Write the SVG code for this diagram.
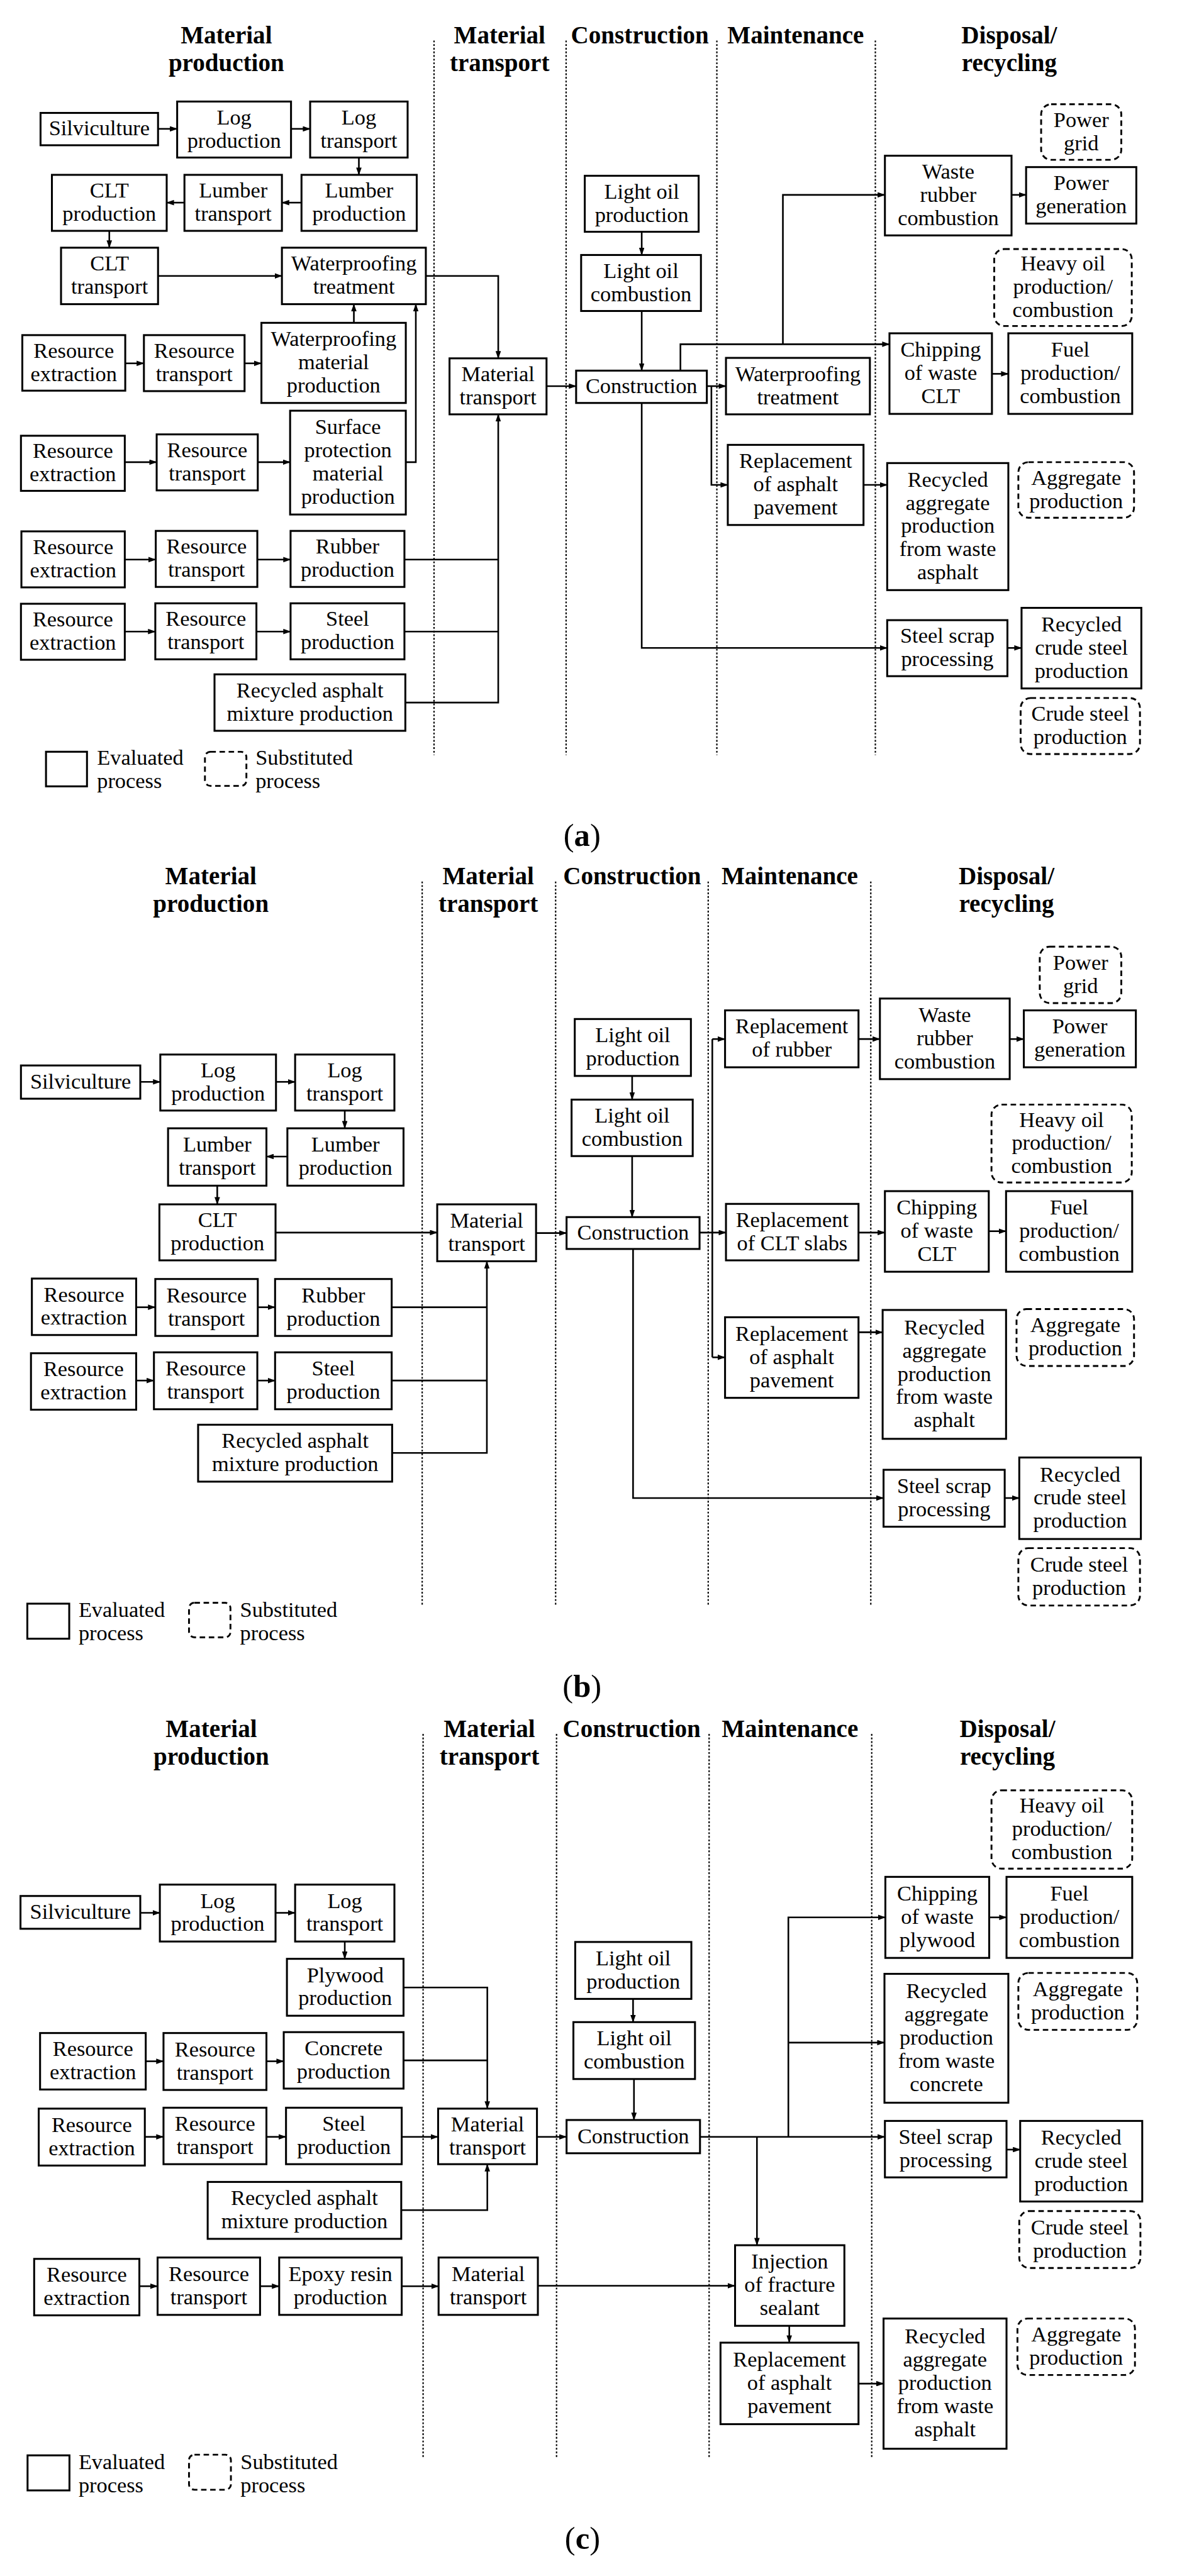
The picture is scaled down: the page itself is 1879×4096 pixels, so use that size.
<svg xmlns="http://www.w3.org/2000/svg" width="1879" height="4096" viewBox="0 0 1879 4096">
<defs>
<marker id="ar" markerUnits="userSpaceOnUse" markerWidth="17" markerHeight="12" viewBox="0 0 17 12" refX="16" refY="6" orient="auto"><path d="M0,0 L17,6 L0,12 z" fill="#000"/></marker>
<style>
.t{font-family:"Liberation Serif","Times New Roman",serif;font-size:47.5px;text-anchor:middle;fill:#000}
.lg{font-family:"Liberation Serif","Times New Roman",serif;font-size:47.5px;text-anchor:start;fill:#000}
.h{font-family:"Liberation Serif","Times New Roman",serif;font-size:54px;font-weight:bold;text-anchor:middle;fill:#000}
.cap{font-family:"Liberation Serif","Times New Roman",serif;font-size:70px;text-anchor:middle;fill:#000}
.b{fill:#fff;stroke:#000;stroke-width:4.2}
.d{fill:#fff;stroke:#000;stroke-width:4;stroke-dasharray:12 8}
.c line,.c path{fill:none;stroke:#000;stroke-width:3.6}
.a{marker-end:url(#ar)}
.v line{stroke:#000;stroke-width:3;stroke-dasharray:4 4}
</style>
</defs>
<rect width="1879" height="4096" fill="#fff"/>
<g transform="scale(0.724)">

<!-- ================= PANEL A ================= -->
<g id="a-headers">
<text class="h" y="95"><tspan x="497">Material</tspan><tspan x="497" dy="61">production</tspan></text>
<text class="h" y="95"><tspan x="1097">Material</tspan><tspan x="1097" dy="61">transport</tspan></text>
<text class="h" x="1405" y="95">Construction</text>
<text class="h" x="1747" y="95">Maintenance</text>
<text class="h" y="95"><tspan x="2216">Disposal/</tspan><tspan x="2216" dy="61">recycling</tspan></text>
</g>
<g id="a-separators" class="v">
<line x1="953" y1="89" x2="953" y2="1658"/>
<line x1="1243" y1="89" x2="1243" y2="1658"/>
<line x1="1574" y1="89" x2="1574" y2="1658"/>
<line x1="1922" y1="89" x2="1922" y2="1658"/>
</g>
<g id="a-connectors" class="c">
<line class="a" x1="347" y1="283" x2="389" y2="283"/>
<line class="a" x1="639" y1="283" x2="681" y2="283"/>
<line class="a" x1="788" y1="346" x2="788" y2="384"/>
<line class="a" x1="662" y1="445" x2="619" y2="445"/>
<line class="a" x1="405" y1="445" x2="366" y2="445"/>
<line class="a" x1="240" y1="507" x2="240" y2="544"/>
<line class="a" x1="347" y1="606" x2="619" y2="606"/>
<path class="a" d="M935,606 H1094 V787"/>
<line class="a" x1="777" y1="709" x2="777" y2="668"/>
<path class="a" d="M891,1015 H913 V668"/>
<line class="a" x1="275" y1="798" x2="316" y2="798"/>
<line class="a" x1="537" y1="798" x2="574" y2="798"/>
<line class="a" x1="274" y1="1015" x2="344" y2="1015"/>
<line class="a" x1="566" y1="1015" x2="637" y2="1015"/>
<line class="a" x1="274" y1="1229" x2="342" y2="1229"/>
<line class="a" x1="565" y1="1229" x2="638" y2="1229"/>
<line class="a" x1="274" y1="1387" x2="341" y2="1387"/>
<line class="a" x1="563" y1="1387" x2="638" y2="1387"/>
<line x1="888" y1="1229" x2="1094" y2="1229"/>
<line x1="888" y1="1387" x2="1094" y2="1387"/>
<path class="a" d="M890,1543 H1094 V910"/>
<line class="a" x1="1200" y1="848" x2="1265" y2="848"/>
<line class="a" x1="1409" y1="509" x2="1409" y2="560"/>
<line class="a" x1="1409" y1="683" x2="1409" y2="814"/>
<line class="a" x1="1552" y1="848" x2="1594" y2="848"/>
<path class="a" d="M1562,848 V1065 H1598"/>
<path class="a" d="M1494,814 V756 H1953"/>
<path class="a" d="M1719,756 V428 H1943"/>
<line class="a" x1="2221" y1="428" x2="2253" y2="428"/>
<line class="a" x1="2178" y1="821" x2="2214" y2="821"/>
<line class="a" x1="1896" y1="1065" x2="1948" y2="1065"/>
<path class="a" d="M1409,885 V1423 H1948"/>
<line class="a" x1="2212" y1="1423" x2="2243" y2="1423"/>
</g>
<g id="a-silviculture"><rect class="b" x="89" y="248" width="258" height="71"/><text class="t" x="218" y="297.5">Silviculture</text></g>
<g id="a-log-production"><rect class="b" x="389" y="223" width="250" height="123"/><text class="t" y="273"><tspan x="514">Log</tspan><tspan x="514" dy="51">production</tspan></text></g>
<g id="a-log-transport"><rect class="b" x="681" y="223" width="214" height="123"/><text class="t" y="273"><tspan x="788">Log</tspan><tspan x="788" dy="51">transport</tspan></text></g>
<g id="a-clt-production"><rect class="b" x="114" y="384" width="252" height="123"/><text class="t" y="434"><tspan x="240">CLT</tspan><tspan x="240" dy="51">production</tspan></text></g>
<g id="a-lumber-transport"><rect class="b" x="405" y="384" width="214" height="123"/><text class="t" y="434"><tspan x="512">Lumber</tspan><tspan x="512" dy="51">transport</tspan></text></g>
<g id="a-lumber-production"><rect class="b" x="662" y="384" width="253" height="123"/><text class="t" y="434"><tspan x="788.5">Lumber</tspan><tspan x="788.5" dy="51">production</tspan></text></g>
<g id="a-clt-transport"><rect class="b" x="134" y="544" width="213" height="124"/><text class="t" y="594.5"><tspan x="240.5">CLT</tspan><tspan x="240.5" dy="51">transport</tspan></text></g>
<g id="a-waterproofing-treatment"><rect class="b" x="619" y="544" width="316" height="124"/><text class="t" y="594.5"><tspan x="777">Waterproofing</tspan><tspan x="777" dy="51">treatment</tspan></text></g>
<g id="a-resource-extraction-1"><rect class="b" x="49" y="736" width="226" height="122"/><text class="t" y="785.5"><tspan x="162">Resource</tspan><tspan x="162" dy="51">extraction</tspan></text></g>
<g id="a-resource-transport-1"><rect class="b" x="316" y="736" width="221" height="123"/><text class="t" y="786"><tspan x="426.5">Resource</tspan><tspan x="426.5" dy="51">transport</tspan></text></g>
<g id="a-waterproofing-material"><rect class="b" x="574" y="709" width="317" height="176"/><text class="t" y="760"><tspan x="732.5">Waterproofing</tspan><tspan x="732.5" dy="51">material</tspan><tspan x="732.5" dy="51">production</tspan></text></g>
<g id="a-material-transport"><rect class="b" x="987" y="787" width="213" height="123"/><text class="t" y="837"><tspan x="1093.5">Material</tspan><tspan x="1093.5" dy="51">transport</tspan></text></g>
<g id="a-resource-extraction-2"><rect class="b" x="46" y="957" width="228" height="121"/><text class="t" y="1006"><tspan x="160">Resource</tspan><tspan x="160" dy="51">extraction</tspan></text></g>
<g id="a-resource-transport-2"><rect class="b" x="344" y="954" width="222" height="123"/><text class="t" y="1004"><tspan x="455">Resource</tspan><tspan x="455" dy="51">transport</tspan></text></g>
<g id="a-surface-protection"><rect class="b" x="637" y="902" width="254" height="228"/><text class="t" y="953.5"><tspan x="764">Surface</tspan><tspan x="764" dy="51">protection</tspan><tspan x="764" dy="51">material</tspan><tspan x="764" dy="51">production</tspan></text></g>
<g id="a-resource-extraction-3"><rect class="b" x="47" y="1167" width="227" height="123"/><text class="t" y="1217"><tspan x="160.5">Resource</tspan><tspan x="160.5" dy="51">extraction</tspan></text></g>
<g id="a-resource-transport-3"><rect class="b" x="342" y="1166" width="223" height="123"/><text class="t" y="1216"><tspan x="453.5">Resource</tspan><tspan x="453.5" dy="51">transport</tspan></text></g>
<g id="a-rubber-production"><rect class="b" x="638" y="1166" width="250" height="123"/><text class="t" y="1216"><tspan x="763">Rubber</tspan><tspan x="763" dy="51">production</tspan></text></g>
<g id="a-resource-extraction-4"><rect class="b" x="46" y="1326" width="228" height="123"/><text class="t" y="1376"><tspan x="160">Resource</tspan><tspan x="160" dy="51">extraction</tspan></text></g>
<g id="a-resource-transport-4"><rect class="b" x="341" y="1325" width="222" height="123"/><text class="t" y="1375"><tspan x="452">Resource</tspan><tspan x="452" dy="51">transport</tspan></text></g>
<g id="a-steel-production"><rect class="b" x="638" y="1325" width="250" height="123"/><text class="t" y="1375"><tspan x="763">Steel</tspan><tspan x="763" dy="51">production</tspan></text></g>
<g id="a-recycled-asphalt-mixture"><rect class="b" x="471" y="1481" width="419" height="124"/><text class="t" y="1531.5"><tspan x="680.5">Recycled asphalt</tspan><tspan x="680.5" dy="51">mixture production</tspan></text></g>
<g id="a-light-oil-production"><rect class="b" x="1284" y="386" width="250" height="123"/><text class="t" y="436"><tspan x="1409">Light oil</tspan><tspan x="1409" dy="51">production</tspan></text></g>
<g id="a-light-oil-combustion"><rect class="b" x="1276" y="560" width="263" height="123"/><text class="t" y="610"><tspan x="1407.5">Light oil</tspan><tspan x="1407.5" dy="51">combustion</tspan></text></g>
<g id="a-construction"><rect class="b" x="1265" y="814" width="287" height="71"/><text class="t" x="1408.5" y="863.5">Construction</text></g>
<g id="a-waterproofing-maint"><rect class="b" x="1594" y="786" width="316" height="124"/><text class="t" y="836.5"><tspan x="1752">Waterproofing</tspan><tspan x="1752" dy="51">treatment</tspan></text></g>
<g id="a-replacement-asphalt"><rect class="b" x="1598" y="977" width="298" height="176"/><text class="t" y="1028"><tspan x="1747">Replacement</tspan><tspan x="1747" dy="51">of asphalt</tspan><tspan x="1747" dy="51">pavement</tspan></text></g>
<g id="a-power-grid"><rect class="d" x="2286" y="229" width="176" height="122" rx="22"/><text class="t" y="278.5"><tspan x="2374">Power</tspan><tspan x="2374" dy="51">grid</tspan></text></g>
<g id="a-waste-rubber-combustion"><rect class="b" x="1943" y="342" width="278" height="175"/><text class="t" y="392.5"><tspan x="2082">Waste</tspan><tspan x="2082" dy="51">rubber</tspan><tspan x="2082" dy="51">combustion</tspan></text></g>
<g id="a-power-generation"><rect class="b" x="2253" y="367" width="242" height="124"/><text class="t" y="417.5"><tspan x="2374">Power</tspan><tspan x="2374" dy="51">generation</tspan></text></g>
<g id="a-heavy-oil"><rect class="d" x="2183" y="547" width="302" height="169" rx="22"/><text class="t" y="594.5"><tspan x="2334">Heavy oil</tspan><tspan x="2334" dy="51">production/</tspan><tspan x="2334" dy="51">combustion</tspan></text></g>
<g id="a-chipping"><rect class="b" x="1953" y="732" width="225" height="177"/><text class="t" y="783.5"><tspan x="2065.5">Chipping</tspan><tspan x="2065.5" dy="51">of waste</tspan><tspan x="2065.5" dy="51">CLT</tspan></text></g>
<g id="a-fuel"><rect class="b" x="2214" y="732" width="272" height="177"/><text class="t" y="783.5"><tspan x="2350">Fuel</tspan><tspan x="2350" dy="51">production/</tspan><tspan x="2350" dy="51">combustion</tspan></text></g>
<g id="a-aggregate-production"><rect class="d" x="2236" y="1015" width="254" height="122" rx="22"/><text class="t" y="1064.5"><tspan x="2363">Aggregate</tspan><tspan x="2363" dy="51">production</tspan></text></g>
<g id="a-recycled-aggregate"><rect class="b" x="1948" y="1017" width="266" height="279"/><text class="t" y="1068.5"><tspan x="2081">Recycled</tspan><tspan x="2081" dy="51">aggregate</tspan><tspan x="2081" dy="51">production</tspan><tspan x="2081" dy="51">from waste</tspan><tspan x="2081" dy="51">asphalt</tspan></text></g>
<g id="a-steel-scrap"><rect class="b" x="1948" y="1362" width="264" height="123"/><text class="t" y="1412"><tspan x="2080">Steel scrap</tspan><tspan x="2080" dy="51">processing</tspan></text></g>
<g id="a-recycled-crude-steel"><rect class="b" x="2243" y="1335" width="263" height="177"/><text class="t" y="1386.5"><tspan x="2374.5">Recycled</tspan><tspan x="2374.5" dy="51">crude steel</tspan><tspan x="2374.5" dy="51">production</tspan></text></g>
<g id="a-crude-steel"><rect class="d" x="2241" y="1533" width="262" height="123" rx="22"/><text class="t" y="1583"><tspan x="2372">Crude steel</tspan><tspan x="2372" dy="51">production</tspan></text></g>
<g id="a-legend">
<rect class="b" x="101" y="1651" width="90" height="76"/>
<text class="lg" y="1680"><tspan x="213">Evaluated</tspan><tspan x="213" dy="51">process</tspan></text>
<rect class="d" x="450" y="1651" width="91" height="75" rx="12"/>
<text class="lg" y="1680"><tspan x="561">Substituted</tspan><tspan x="561" dy="51">process</tspan></text>
</g>
<text class="cap" x="1278" y="1858">(<tspan font-weight="bold">a</tspan>)</text>

<!-- ================= PANEL B ================= -->
<g id="b-headers">
<text class="h" y="1942"><tspan x="463">Material</tspan><tspan x="463" dy="61">production</tspan></text>
<text class="h" y="1942"><tspan x="1072">Material</tspan><tspan x="1072" dy="61">transport</tspan></text>
<text class="h" x="1388" y="1942">Construction</text>
<text class="h" x="1734" y="1942">Maintenance</text>
<text class="h" y="1942"><tspan x="2210">Disposal/</tspan><tspan x="2210" dy="61">recycling</tspan></text>
</g>
<g id="b-separators" class="v">
<line x1="927" y1="1936" x2="927" y2="3528"/>
<line x1="1220" y1="1936" x2="1220" y2="3528"/>
<line x1="1555" y1="1936" x2="1555" y2="3528"/>
<line x1="1912" y1="1936" x2="1912" y2="3528"/>
</g>
<g id="b-connectors" class="c">
<line class="a" x1="308" y1="2376" x2="352" y2="2376"/>
<line class="a" x1="606" y1="2376" x2="648" y2="2376"/>
<line class="a" x1="757" y1="2439" x2="757" y2="2478"/>
<line class="a" x1="631" y1="2540" x2="585" y2="2540"/>
<line class="a" x1="477" y1="2604" x2="477" y2="2645"/>
<line class="a" x1="605" y1="2707" x2="960" y2="2707"/>
<line class="a" x1="1177" y1="2708" x2="1244" y2="2708"/>
<line class="a" x1="299" y1="2871" x2="341" y2="2871"/>
<line class="a" x1="566" y1="2871" x2="604" y2="2871"/>
<line class="a" x1="299" y1="3032" x2="338" y2="3032"/>
<line class="a" x1="565" y1="3032" x2="604" y2="3032"/>
<line x1="860" y1="2871" x2="1069" y2="2871"/>
<line x1="860" y1="3032" x2="1069" y2="3032"/>
<path class="a" d="M861,3191 H1069 V2770"/>
<line class="a" x1="1388" y1="2363" x2="1388" y2="2415"/>
<line class="a" x1="1388" y1="2539" x2="1388" y2="2673"/>
<line class="a" x1="1536" y1="2707" x2="1594" y2="2707"/>
<line x1="1564" y1="2282" x2="1564" y2="2981"/>
<line class="a" x1="1564" y1="2282" x2="1592" y2="2282"/>
<line class="a" x1="1564" y1="2981" x2="1592" y2="2981"/>
<line class="a" x1="1885" y1="2282" x2="1932" y2="2282"/>
<line class="a" x1="2217" y1="2282" x2="2248" y2="2282"/>
<line class="a" x1="1885" y1="2707" x2="1943" y2="2707"/>
<line class="a" x1="2171" y1="2704" x2="2209" y2="2704"/>
<line class="a" x1="1885" y1="2926" x2="1938" y2="2926"/>
<path class="a" d="M1390,2743 V3290 H1940"/>
<line class="a" x1="2206" y1="3290" x2="2238" y2="3290"/>
</g>
<g id="b-silviculture"><rect class="b" x="46" y="2340" width="262" height="73"/><text class="t" x="177" y="2390.5">Silviculture</text></g>
<g id="b-log-production"><rect class="b" x="352" y="2316" width="254" height="123"/><text class="t" y="2366"><tspan x="479">Log</tspan><tspan x="479" dy="51">production</tspan></text></g>
<g id="b-log-transport"><rect class="b" x="648" y="2316" width="218" height="123"/><text class="t" y="2366"><tspan x="757">Log</tspan><tspan x="757" dy="51">transport</tspan></text></g>
<g id="b-lumber-transport"><rect class="b" x="369" y="2478" width="216" height="126"/><text class="t" y="2529.5"><tspan x="477">Lumber</tspan><tspan x="477" dy="51">transport</tspan></text></g>
<g id="b-lumber-production"><rect class="b" x="631" y="2478" width="255" height="126"/><text class="t" y="2529.5"><tspan x="758.5">Lumber</tspan><tspan x="758.5" dy="51">production</tspan></text></g>
<g id="b-clt-production"><rect class="b" x="350" y="2645" width="255" height="123"/><text class="t" y="2695"><tspan x="477.5">CLT</tspan><tspan x="477.5" dy="51">production</tspan></text></g>
<g id="b-material-transport"><rect class="b" x="960" y="2645" width="217" height="125"/><text class="t" y="2696"><tspan x="1068.5">Material</tspan><tspan x="1068.5" dy="51">transport</tspan></text></g>
<g id="b-resource-extraction-1"><rect class="b" x="70" y="2808" width="229" height="124"/><text class="t" y="2858.5"><tspan x="184.5">Resource</tspan><tspan x="184.5" dy="51">extraction</tspan></text></g>
<g id="b-resource-transport-1"><rect class="b" x="341" y="2809" width="225" height="125"/><text class="t" y="2860"><tspan x="453.5">Resource</tspan><tspan x="453.5" dy="51">transport</tspan></text></g>
<g id="b-rubber-production"><rect class="b" x="604" y="2809" width="256" height="125"/><text class="t" y="2860"><tspan x="732">Rubber</tspan><tspan x="732" dy="51">production</tspan></text></g>
<g id="b-resource-extraction-2"><rect class="b" x="68" y="2972" width="231" height="124"/><text class="t" y="3022.5"><tspan x="183.5">Resource</tspan><tspan x="183.5" dy="51">extraction</tspan></text></g>
<g id="b-resource-transport-2"><rect class="b" x="338" y="2970" width="227" height="125"/><text class="t" y="3021"><tspan x="451.5">Resource</tspan><tspan x="451.5" dy="51">transport</tspan></text></g>
<g id="b-steel-production"><rect class="b" x="604" y="2970" width="256" height="125"/><text class="t" y="3021"><tspan x="732">Steel</tspan><tspan x="732" dy="51">production</tspan></text></g>
<g id="b-recycled-asphalt-mixture"><rect class="b" x="435" y="3129" width="426" height="125"/><text class="t" y="3180"><tspan x="648">Recycled asphalt</tspan><tspan x="648" dy="51">mixture production</tspan></text></g>
<g id="b-light-oil-production"><rect class="b" x="1262" y="2238" width="255" height="125"/><text class="t" y="2289"><tspan x="1389.5">Light oil</tspan><tspan x="1389.5" dy="51">production</tspan></text></g>
<g id="b-light-oil-combustion"><rect class="b" x="1255" y="2415" width="266" height="124"/><text class="t" y="2465.5"><tspan x="1388">Light oil</tspan><tspan x="1388" dy="51">combustion</tspan></text></g>
<g id="b-construction"><rect class="b" x="1244" y="2673" width="292" height="70"/><text class="t" x="1390" y="2722">Construction</text></g>
<g id="b-replacement-rubber"><rect class="b" x="1592" y="2219" width="293" height="125"/><text class="t" y="2270"><tspan x="1738.5">Replacement</tspan><tspan x="1738.5" dy="51">of rubber</tspan></text></g>
<g id="b-replacement-clt"><rect class="b" x="1594" y="2644" width="291" height="124"/><text class="t" y="2694.5"><tspan x="1739.5">Replacement</tspan><tspan x="1739.5" dy="51">of CLT slabs</tspan></text></g>
<g id="b-replacement-asphalt"><rect class="b" x="1592" y="2893" width="293" height="177"/><text class="t" y="2944.5"><tspan x="1738.5">Replacement</tspan><tspan x="1738.5" dy="51">of asphalt</tspan><tspan x="1738.5" dy="51">pavement</tspan></text></g>
<g id="b-power-grid"><rect class="d" x="2283" y="2079" width="179" height="124" rx="22"/><text class="t" y="2129.5"><tspan x="2372.5">Power</tspan><tspan x="2372.5" dy="51">grid</tspan></text></g>
<g id="b-waste-rubber-combustion"><rect class="b" x="1932" y="2193" width="285" height="177"/><text class="t" y="2244.5"><tspan x="2074.5">Waste</tspan><tspan x="2074.5" dy="51">rubber</tspan><tspan x="2074.5" dy="51">combustion</tspan></text></g>
<g id="b-power-generation"><rect class="b" x="2248" y="2219" width="246" height="125"/><text class="t" y="2270"><tspan x="2371">Power</tspan><tspan x="2371" dy="51">generation</tspan></text></g>
<g id="b-heavy-oil"><rect class="d" x="2177" y="2426" width="308" height="171" rx="22"/><text class="t" y="2474.5"><tspan x="2331">Heavy oil</tspan><tspan x="2331" dy="51">production/</tspan><tspan x="2331" dy="51">combustion</tspan></text></g>
<g id="b-chipping"><rect class="b" x="1943" y="2616" width="228" height="177"/><text class="t" y="2667.5"><tspan x="2057">Chipping</tspan><tspan x="2057" dy="51">of waste</tspan><tspan x="2057" dy="51">CLT</tspan></text></g>
<g id="b-fuel"><rect class="b" x="2209" y="2616" width="277" height="177"/><text class="t" y="2667.5"><tspan x="2347.5">Fuel</tspan><tspan x="2347.5" dy="51">production/</tspan><tspan x="2347.5" dy="51">combustion</tspan></text></g>
<g id="b-aggregate-production"><rect class="d" x="2232" y="2875" width="258" height="125" rx="22"/><text class="t" y="2926"><tspan x="2361">Aggregate</tspan><tspan x="2361" dy="51">production</tspan></text></g>
<g id="b-recycled-aggregate"><rect class="b" x="1938" y="2877" width="271" height="283"/><text class="t" y="2930.5"><tspan x="2073.5">Recycled</tspan><tspan x="2073.5" dy="51">aggregate</tspan><tspan x="2073.5" dy="51">production</tspan><tspan x="2073.5" dy="51">from waste</tspan><tspan x="2073.5" dy="51">asphalt</tspan></text></g>
<g id="b-steel-scrap"><rect class="b" x="1940" y="3228" width="266" height="125"/><text class="t" y="3278.5"><tspan x="2073">Steel scrap</tspan><tspan x="2073" dy="51">processing</tspan></text></g>
<g id="b-recycled-crude-steel"><rect class="b" x="2238" y="3201" width="267" height="179"/><text class="t" y="3253.5"><tspan x="2371.5">Recycled</tspan><tspan x="2371.5" dy="51">crude steel</tspan><tspan x="2371.5" dy="51">production</tspan></text></g>
<g id="b-crude-steel"><rect class="d" x="2236" y="3400" width="267" height="126" rx="22"/><text class="t" y="3451.5"><tspan x="2369.5">Crude steel</tspan><tspan x="2369.5" dy="51">production</tspan></text></g>
<g id="b-legend">
<rect class="b" x="60" y="3522" width="92" height="77"/>
<text class="lg" y="3551.5"><tspan x="172.5">Evaluated</tspan><tspan x="172.5" dy="51">process</tspan></text>
<rect class="d" x="415" y="3520" width="91" height="76" rx="12"/>
<text class="lg" y="3551.5"><tspan x="527">Substituted</tspan><tspan x="527" dy="51">process</tspan></text>
</g>
<text class="cap" x="1278" y="3726">(<tspan font-weight="bold">b</tspan>)</text>

<!-- ================= PANEL C ================= -->
<g id="c-headers">
<text class="h" y="3815"><tspan x="464">Material</tspan><tspan x="464" dy="61">production</tspan></text>
<text class="h" y="3815"><tspan x="1074.5">Material</tspan><tspan x="1074.5" dy="61">transport</tspan></text>
<text class="h" x="1387" y="3815">Construction</text>
<text class="h" x="1734.5" y="3815">Maintenance</text>
<text class="h" y="3815"><tspan x="2212">Disposal/</tspan><tspan x="2212" dy="61">recycling</tspan></text>
</g>
<g id="c-separators" class="v">
<line x1="929" y1="3808" x2="929" y2="5398"/>
<line x1="1222" y1="3808" x2="1222" y2="5398"/>
<line x1="1557" y1="3808" x2="1557" y2="5398"/>
<line x1="1914" y1="3808" x2="1914" y2="5398"/>
</g>
<g id="c-connectors" class="c">
<line class="a" x1="308" y1="4201" x2="351" y2="4201"/>
<line class="a" x1="605" y1="4201" x2="648" y2="4201"/>
<line class="a" x1="757" y1="4264" x2="757" y2="4302"/>
<path class="a" d="M886,4365 H1070 V4631"/>
<line class="a" x1="320" y1="4527" x2="359" y2="4527"/>
<line class="a" x1="585" y1="4527" x2="623" y2="4527"/>
<line x1="886" y1="4525" x2="1070" y2="4525"/>
<line class="a" x1="318" y1="4693" x2="359" y2="4693"/>
<line class="a" x1="585" y1="4693" x2="628" y2="4693"/>
<line class="a" x1="882" y1="4693" x2="962" y2="4693"/>
<line class="a" x1="1179" y1="4693" x2="1244" y2="4693"/>
<path class="a" d="M881,4854 H1070 V4753"/>
<line class="a" x1="306" y1="5021" x2="346" y2="5021"/>
<line class="a" x1="571" y1="5021" x2="613" y2="5021"/>
<line class="a" x1="882" y1="5021" x2="963" y2="5021"/>
<line class="a" x1="1181" y1="5020" x2="1614" y2="5020"/>
<line class="a" x1="1390" y1="4390" x2="1390" y2="4441"/>
<line class="a" x1="1392" y1="4566" x2="1392" y2="4656"/>
<line class="a" x1="1537" y1="4693" x2="1943" y2="4693"/>
<path class="a" d="M1731,4693 V4211 H1944"/>
<line class="a" x1="1731" y1="4486" x2="1942" y2="4486"/>
<path class="a" d="M1662,4693 V4931"/>
<line class="a" x1="1733" y1="5108" x2="1733" y2="5145"/>
<line class="a" x1="1885" y1="5235" x2="1940" y2="5235"/>
<line class="a" x1="2172" y1="4211" x2="2210" y2="4211"/>
<line class="a" x1="2210" y1="4721" x2="2240" y2="4721"/>
</g>
<g id="c-silviculture"><rect class="b" x="45" y="4164" width="263" height="72"/><text class="t" x="176.5" y="4214">Silviculture</text></g>
<g id="c-log-production"><rect class="b" x="351" y="4139" width="254" height="125"/><text class="t" y="4190"><tspan x="478">Log</tspan><tspan x="478" dy="51">production</tspan></text></g>
<g id="c-log-transport"><rect class="b" x="648" y="4139" width="218" height="125"/><text class="t" y="4190"><tspan x="757">Log</tspan><tspan x="757" dy="51">transport</tspan></text></g>
<g id="c-plywood-production"><rect class="b" x="630" y="4302" width="256" height="125"/><text class="t" y="4353"><tspan x="758">Plywood</tspan><tspan x="758" dy="51">production</tspan></text></g>
<g id="c-resource-extraction-1"><rect class="b" x="88" y="4465" width="232" height="124"/><text class="t" y="4515.5"><tspan x="204">Resource</tspan><tspan x="204" dy="51">extraction</tspan></text></g>
<g id="c-resource-transport-1"><rect class="b" x="359" y="4465" width="226" height="125"/><text class="t" y="4516"><tspan x="472">Resource</tspan><tspan x="472" dy="51">transport</tspan></text></g>
<g id="c-concrete-production"><rect class="b" x="623" y="4463" width="263" height="124"/><text class="t" y="4513.5"><tspan x="754.5">Concrete</tspan><tspan x="754.5" dy="51">production</tspan></text></g>
<g id="c-resource-extraction-2"><rect class="b" x="85" y="4631" width="233" height="125"/><text class="t" y="4682"><tspan x="201.5">Resource</tspan><tspan x="201.5" dy="51">extraction</tspan></text></g>
<g id="c-resource-transport-2"><rect class="b" x="359" y="4629" width="226" height="124"/><text class="t" y="4679.5"><tspan x="472">Resource</tspan><tspan x="472" dy="51">transport</tspan></text></g>
<g id="c-steel-production"><rect class="b" x="628" y="4629" width="254" height="124"/><text class="t" y="4679.5"><tspan x="755">Steel</tspan><tspan x="755" dy="51">production</tspan></text></g>
<g id="c-material-transport-1"><rect class="b" x="962" y="4631" width="217" height="122"/><text class="t" y="4680.5"><tspan x="1070.5">Material</tspan><tspan x="1070.5" dy="51">transport</tspan></text></g>
<g id="c-recycled-asphalt-mixture"><rect class="b" x="456" y="4792" width="425" height="125"/><text class="t" y="4843"><tspan x="668.5">Recycled asphalt</tspan><tspan x="668.5" dy="51">mixture production</tspan></text></g>
<g id="c-resource-extraction-3"><rect class="b" x="75" y="4961" width="231" height="124"/><text class="t" y="5011.5"><tspan x="190.5">Resource</tspan><tspan x="190.5" dy="51">extraction</tspan></text></g>
<g id="c-resource-transport-3"><rect class="b" x="346" y="4958" width="225" height="126"/><text class="t" y="5009.5"><tspan x="458.5">Resource</tspan><tspan x="458.5" dy="51">transport</tspan></text></g>
<g id="c-epoxy-resin"><rect class="b" x="613" y="4958" width="269" height="126"/><text class="t" y="5009.5"><tspan x="747.5">Epoxy resin</tspan><tspan x="747.5" dy="51">production</tspan></text></g>
<g id="c-material-transport-2"><rect class="b" x="963" y="4958" width="218" height="126"/><text class="t" y="5009.5"><tspan x="1072">Material</tspan><tspan x="1072" dy="51">transport</tspan></text></g>
<g id="c-light-oil-production"><rect class="b" x="1263" y="4265" width="255" height="125"/><text class="t" y="4316"><tspan x="1390.5">Light oil</tspan><tspan x="1390.5" dy="51">production</tspan></text></g>
<g id="c-light-oil-combustion"><rect class="b" x="1259" y="4441" width="267" height="125"/><text class="t" y="4492"><tspan x="1392.5">Light oil</tspan><tspan x="1392.5" dy="51">combustion</tspan></text></g>
<g id="c-construction"><rect class="b" x="1244" y="4656" width="293" height="73"/><text class="t" x="1390.5" y="4706.5">Construction</text></g>
<g id="c-injection"><rect class="b" x="1614" y="4931" width="240" height="177"/><text class="t" y="4982.5"><tspan x="1734">Injection</tspan><tspan x="1734" dy="51">of fracture</tspan><tspan x="1734" dy="51">sealant</tspan></text></g>
<g id="c-replacement-asphalt"><rect class="b" x="1582" y="5145" width="303" height="179"/><text class="t" y="5197.5"><tspan x="1733.5">Replacement</tspan><tspan x="1733.5" dy="51">of asphalt</tspan><tspan x="1733.5" dy="51">pavement</tspan></text></g>
<g id="c-heavy-oil"><rect class="d" x="2177" y="3932" width="309" height="172" rx="22"/><text class="t" y="3981"><tspan x="2331.5">Heavy oil</tspan><tspan x="2331.5" dy="51">production/</tspan><tspan x="2331.5" dy="51">combustion</tspan></text></g>
<g id="c-chipping"><rect class="b" x="1944" y="4122" width="228" height="178"/><text class="t" y="4174"><tspan x="2058">Chipping</tspan><tspan x="2058" dy="51">of waste</tspan><tspan x="2058" dy="51">plywood</tspan></text></g>
<g id="c-fuel"><rect class="b" x="2210" y="4122" width="276" height="178"/><text class="t" y="4174"><tspan x="2348">Fuel</tspan><tspan x="2348" dy="51">production/</tspan><tspan x="2348" dy="51">combustion</tspan></text></g>
<g id="c-recycled-aggregate-concrete"><rect class="b" x="1942" y="4335" width="272" height="283"/><text class="t" y="4388.5"><tspan x="2078">Recycled</tspan><tspan x="2078" dy="51">aggregate</tspan><tspan x="2078" dy="51">production</tspan><tspan x="2078" dy="51">from waste</tspan><tspan x="2078" dy="51">concrete</tspan></text></g>
<g id="c-aggregate-production-1"><rect class="d" x="2236" y="4333" width="261" height="125" rx="22"/><text class="t" y="4384"><tspan x="2366.5">Aggregate</tspan><tspan x="2366.5" dy="51">production</tspan></text></g>
<g id="c-steel-scrap"><rect class="b" x="1943" y="4658" width="267" height="124"/><text class="t" y="4708.5"><tspan x="2076.5">Steel scrap</tspan><tspan x="2076.5" dy="51">processing</tspan></text></g>
<g id="c-recycled-crude-steel"><rect class="b" x="2240" y="4658" width="268" height="177"/><text class="t" y="4709.5"><tspan x="2374">Recycled</tspan><tspan x="2374" dy="51">crude steel</tspan><tspan x="2374" dy="51">production</tspan></text></g>
<g id="c-crude-steel"><rect class="d" x="2238" y="4856" width="266" height="125" rx="22"/><text class="t" y="4907"><tspan x="2371">Crude steel</tspan><tspan x="2371" dy="51">production</tspan></text></g>
<g id="c-recycled-aggregate-asphalt"><rect class="b" x="1940" y="5092" width="270" height="286"/><text class="t" y="5147"><tspan x="2075">Recycled</tspan><tspan x="2075" dy="51">aggregate</tspan><tspan x="2075" dy="51">production</tspan><tspan x="2075" dy="51">from waste</tspan><tspan x="2075" dy="51">asphalt</tspan></text></g>
<g id="c-aggregate-production-2"><rect class="d" x="2234" y="5092" width="258" height="124" rx="22"/><text class="t" y="5142.5"><tspan x="2363">Aggregate</tspan><tspan x="2363" dy="51">production</tspan></text></g>
<g id="c-legend">
<rect class="b" x="60.5" y="5392.5" width="92" height="77"/>
<text class="lg" y="5422.5"><tspan x="172.5">Evaluated</tspan><tspan x="172.5" dy="51">process</tspan></text>
<rect class="d" x="415" y="5391" width="92" height="77" rx="12"/>
<text class="lg" y="5422.5"><tspan x="528">Substituted</tspan><tspan x="528" dy="51">process</tspan></text>
</g>
<text class="cap" x="1279" y="5598">(<tspan font-weight="bold">c</tspan>)</text>

</g>
</svg>
